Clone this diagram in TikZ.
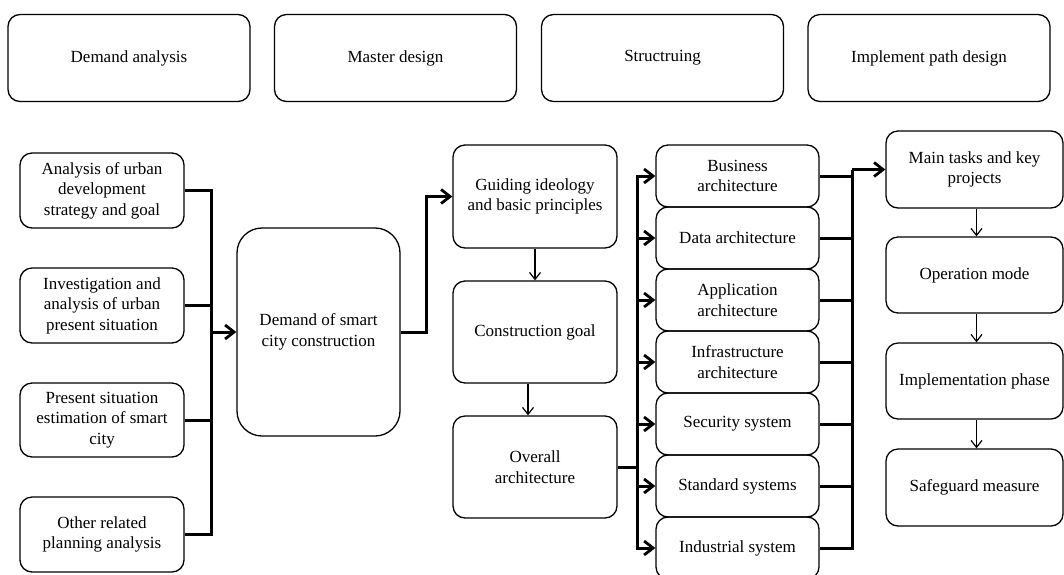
\documentclass[tikz,border=0pt]{standalone}
\usepackage{fontspec}
\setmainfont{Liberation Serif}
\usetikzlibrary{arrows.meta}
\begin{document}
\begin{tikzpicture}[x=1pt,y=-1pt,
  box/.style={draw,line width=1.3pt,rounded corners=12pt,align=center,inner sep=0pt,
    font=\fontsize{17}{20.5}\selectfont},
  thk/.style={line width=3pt},
  thkarr/.style={line width=3pt,-{Straight Barb[length=9pt,width=14pt,line width=2.8pt]}},
  thnarr/.style={line width=1.2pt,-{Straight Barb[length=7pt,width=11pt,line width=1.2pt]}}]
\useasboundingbox (0,0) rectangle (1064,574);
% top header boxes
\node[box,minimum width=242pt,minimum height=87pt] (h1) at (129,58) {Demand analysis};
\node[box,minimum width=242pt,minimum height=87pt] (h2) at (395.5,58) {Master design};
\node[box,minimum width=242pt,minimum height=87pt] (h3) at (662.5,58) {Structruing};
\node[box,minimum width=242pt,minimum height=87pt] (h4) at (929,58) {Implement path design};
% left column
\node[box,minimum width=164pt,minimum height=75pt] (l1) at (102,190.5) {Analysis of urban\\development\\strategy and goal};
\node[box,minimum width=164pt,minimum height=75pt] (l2) at (102,305.5) {Investigation and\\analysis of urban\\present situation};
\node[box,minimum width=164pt,minimum height=74pt] (l3) at (102,420) {Present situation\\estimation of smart\\city};
\node[box,minimum width=164pt,minimum height=75pt] (l4) at (102,534.5) {Other related\\planning analysis};
% demand
\node[box,rounded corners=25pt,minimum width=163pt,minimum height=208pt] (d) at (318.5,332) {Demand of smart\\city construction};
% middle column
\node[box,minimum width=164pt,minimum height=103pt] (g) at (535,196.5) {Guiding ideology\\and basic principles};
\node[box,minimum width=164pt,minimum height=102pt] (c) at (535,332) {Construction goal};
\node[box,minimum width=164pt,minimum height=102pt] (o) at (535,467) {Overall\\architecture};
% architecture column
\node[box,minimum width=163pt,minimum height=62pt] (a1) at (737.5,176) {Business\\architecture};
\node[box,minimum width=163pt,minimum height=62pt] (a2) at (737.5,238) {Data architecture};
\node[box,minimum width=163pt,minimum height=62pt] (a3) at (737.5,300) {Application\\architecture};
\node[box,minimum width=163pt,minimum height=62pt] (a4) at (737.5,362) {Infrastructure\\architecture};
\node[box,minimum width=163pt,minimum height=62pt] (a5) at (737.5,424) {Security system};
\node[box,minimum width=163pt,minimum height=62pt] (a6) at (737.5,486) {Standard systems};
\node[box,minimum width=163pt,minimum height=62pt] (a7) at (737.5,548) {Industrial system};
% right column
\node[box,minimum width=177pt,minimum height=77pt] (m) at (974.5,169.5) {Main tasks and key\\projects};
\node[box,minimum width=177pt,minimum height=76pt] (p) at (974.5,275) {Operation mode};
\node[box,minimum width=177pt,minimum height=76pt] (i) at (974.5,381) {Implementation phase};
\node[box,minimum width=177pt,minimum height=77pt] (s) at (974.5,487.5) {Safeguard measure};
% left bus
\coordinate (bl) at (211,332);
\foreach \n in {l1,l2,l3,l4} \draw[thk] (\n.east) -| (bl);
\draw[thkarr] (bl) -- (d.west);
% demand to guiding
\draw[thkarr] (d.east) -- ++(26,0) |- (g.west);
% middle thin arrows
\draw[thnarr] (g.south) -- (c.north);
\draw[thnarr] ([xshift=-7pt]c.south) -- ([xshift=-7pt]o.north);
% overall to architecture bus
\coordinate (ba) at (637,467);
\draw[thk] (o.east) -- (ba);
\foreach \n in {a1,a2,a3,a4,a5,a6,a7} \draw[thkarr] (ba) |- (\n.west);
% architecture to right bus
\coordinate (br) at (852,169.5);
\foreach \n in {a1,a2,a3,a4,a5,a6,a7} \draw[thk] (\n.east) -| (br);
\draw[thkarr] (br) -- (m.west);
% right thin arrows
\draw[thnarr] ([xshift=2pt]m.south) -- ([xshift=2pt]p.north);
\draw[thnarr] ([xshift=2pt]p.south) -- ([xshift=2pt]i.north);
\draw[thnarr] ([xshift=2pt]i.south) -- ([xshift=2pt]s.north);
\end{tikzpicture}
\end{document}
